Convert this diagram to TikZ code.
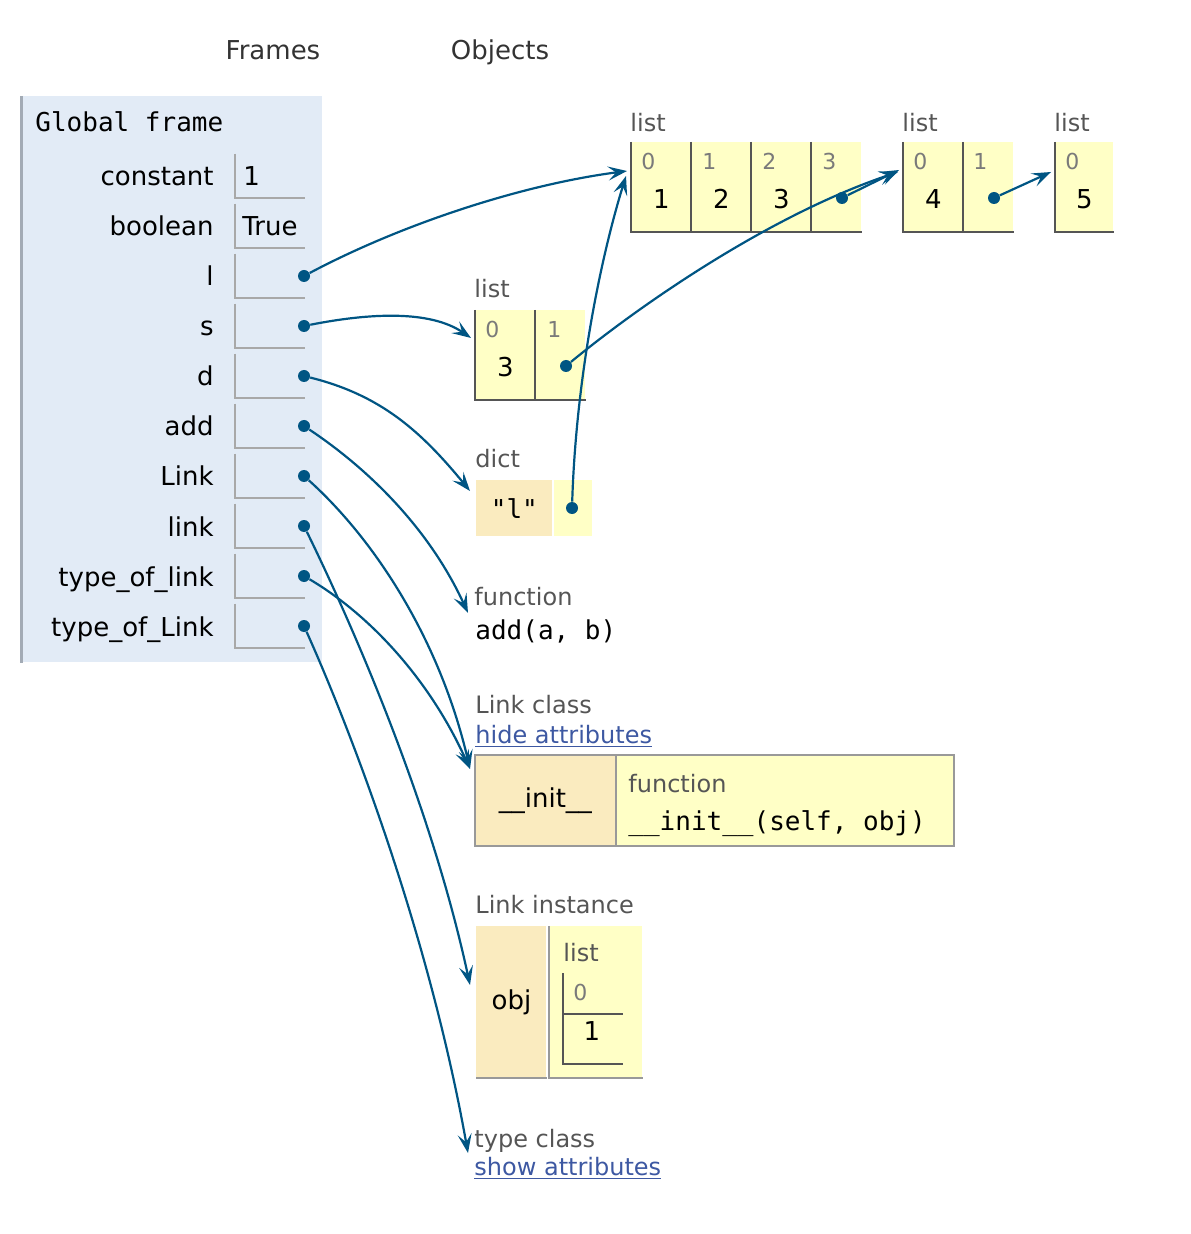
\documentclass[tikz,border=0pt]{standalone}
\usepackage{fontspec}
\setmainfont{DejaVu Sans}
\setmonofont{DejaVu Sans Mono}
\usetikzlibrary{arrows.meta}
\definecolor{framebg}{HTML}{E2EBF6}
\definecolor{framebord}{HTML}{A3ABB5}
\definecolor{fcellline}{HTML}{A8A8A8}
\definecolor{listbg}{HTML}{FFFFC6}
\definecolor{keybg}{HTML}{FAEBBF}
\definecolor{listline}{HTML}{555555}
\definecolor{boxgray}{HTML}{999999}
\definecolor{arrowcol}{HTML}{005583}
\definecolor{linkcol}{HTML}{3D58A2}
\definecolor{tagcol}{HTML}{555555}
\definecolor{idxcol}{HTML}{7A7A7A}
\definecolor{headcol}{HTML}{333333}
\tikzstyle{txt} = [inner sep=0pt, anchor=base west, font=\fontsize{13}{15}\selectfont]
\tikzstyle{vname} = [txt, anchor=base east]
\tikzstyle{head} = [txt, anchor=base, text=headcol]
\tikzstyle{mono} = [txt, font=\fontsize{13}{15}\selectfont\ttfamily]
\tikzstyle{tag} = [txt, text=tagcol, font=\fontsize{12}{14}\selectfont]
\tikzstyle{idx} = [txt, text=idxcol, font=\fontsize{11}{13}\selectfont]
\tikzstyle{weblink} = [txt, text=linkcol, font=\fontsize{12}{14}\selectfont]
\tikzstyle{cell} = [rectangle, fill=listbg, inner sep=0pt, anchor=north west, minimum height=44.5pt, text height=22pt, text depth=0pt, font=\fontsize{13}{15}\selectfont]
\tikzstyle{keycell} = [rectangle, fill=keybg, inner sep=0pt, anchor=north west, font=\fontsize{13}{15}\selectfont]
\tikzstyle{valcell} = [rectangle, fill=listbg, inner sep=0pt, anchor=north west]
\tikzstyle{fcell} = [rectangle, inner sep=0pt, minimum width=35pt, minimum height=22pt]
\tikzstyle{ptr} = [circle, fill=arrowcol, inner sep=0pt, minimum size=6pt]
\tikzstyle{ref} = [draw=arrowcol, line width=1.1pt, -{Stealth[length=9.5pt,width=7pt,inset=4pt]}]
\tikzstyle{cline} = [draw=listline, line width=1pt]
\tikzstyle{fline} = [draw=fcellline, line width=1pt]
\tikzstyle{boxline} = [draw=boxgray, line width=1pt]

\begin{document}
\begin{tikzpicture}[x=0.5pt, y=-0.5pt]
    \useasboundingbox (0,0) rectangle (1190,1234);
    \node (frames) [head] at (273,60) {Frames};
    \node (objects) [head] at (500,60) {Objects};

    % global frame
    \node (glob) [rectangle, fill=framebg, inner sep=0pt, minimum width=151pt, minimum height=283pt, anchor=north west] at (20,96) {};
    \draw [draw=framebord, line width=1.5pt] ([xshift=0.75pt]glob.north west) -- ([xshift=0.75pt]glob.south west);
    \node (gf) [mono] at (35,132) {Global frame};
    \foreach \n/\t in {1/constant, 2/boolean, 3/l, 4/s, 5/d, 6/add, 7/Link, 8/link, 9/type\_of\_link, 10/type\_of\_Link} {
        \node (v\n) [vname] at (214,136+50*\n) {\t};
        \node (f\n) [fcell] at (270,126+50*\n) {};
        \draw [fline] (f\n.north west) |- (f\n.south east);
    }
    \node (val1) [txt] at (243,186) {1};
    \node (val2) [txt] at (242,236) {True};
    \node (pl) [ptr] at (304,276) {};
    \node (ps) [ptr] at (304,326) {};
    \node (pd) [ptr] at (304,376) {};
    \node (padd) [ptr] at (304,426) {};
    \node (pLink) [ptr] at (304,476) {};
    \node (plink) [ptr] at (304,526) {};
    \node (ptol) [ptr] at (304,576) {};
    \node (ptoL) [ptr] at (304,626) {};

    % list [1, 2, 3, ...]
    \node (atag) [tag] at (630,132) {list};
    \node (a0) [cell, minimum width=30pt] at (631,142) {1};
    \node (a1) [cell, minimum width=30pt] at (691,142) {2};
    \node (a2) [cell, minimum width=30pt] at (751,142) {3};
    \node (a3) [cell, minimum width=25pt] at (811,142) {};
    \draw [cline] (a0.north west) |- (a3.south east);
    \draw [cline] (a1.north west) -- (a1.south west);
    \draw [cline] (a2.north west) -- (a2.south west);
    \draw [cline] (a3.north west) -- (a3.south west);
    \node (a0i) [idx] at (641,170) {0};
    \node (a1i) [idx] at (702,170) {1};
    \node (a2i) [idx] at (762,170) {2};
    \node (a3i) [idx] at (822,170) {3};
    \node (a3p) [ptr] at (842,198) {};

    % list [4, ...]
    \node (ctag) [tag] at (902,132) {list};
    \node (c0) [cell, minimum width=30pt] at (903,142) {4};
    \node (c1) [cell, minimum width=25pt] at (963,142) {};
    \draw [cline] (c0.north west) |- (c1.south east);
    \draw [cline] (c1.north west) -- (c1.south west);
    \node (c0i) [idx] at (913,170) {0};
    \node (c1i) [idx] at (973,170) {1};
    \node (c1p) [ptr] at (994,198) {};

    % list [5]
    \node (etag) [tag] at (1054,132) {list};
    \node (e0) [cell, minimum width=29pt] at (1055,142) {5};
    \draw [cline] (e0.north west) |- (e0.south east);
    \node (e0i) [idx] at (1065,170) {0};

    % list [3, ...]
    \node (btag) [tag] at (474,298) {list};
    \node (b0) [cell, minimum width=30pt] at (475,310) {3};
    \node (b1) [cell, minimum width=25pt] at (535,310) {};
    \draw [cline] (b0.north west) |- (b1.south east);
    \draw [cline] (b1.north west) -- (b1.south west);
    \node (b0i) [idx] at (485,338) {0};
    \node (b1i) [idx] at (547,338) {1};
    \node (b1p) [ptr] at (566,366) {};

    % dict
    \node (dtag) [tag] at (475,467) {dict};
    \node (dk) [keycell, minimum width=38pt, minimum height=28pt] at (476,480) {\ttfamily"l"};
    \node (dv) [valcell, minimum width=19pt, minimum height=28pt] at (554,480) {};
    \node (dvp) [ptr] at (572,508) {};

    % function
    \node (fn) [tag] at (474,605) {function};
    \node (fnsig) [mono] at (475,639) {add(a, b)};

    % Link class
    \node (ctitle) [tag] at (475,713) {Link class};
    \node (chide) [weblink] at (475,743) {\underline{hide attributes}};
    \node (ck) [keycell, minimum width=70pt, minimum height=45pt] at (475,755) {\_\_init\_\_};
    \node (cv) [valcell, minimum width=169pt, minimum height=45pt] at (615,755) {};
    \draw [boxline] (ck.north west) rectangle (cv.south east);
    \draw [boxline] (ck.north east) -- (ck.south east);
    \node (cvtag) [tag] at (628,792) {function};
    \node (cvsig) [mono] at (628,830) {\_\_init\_\_(self, obj)};

    % Link instance
    \node (ititle) [tag] at (475,913) {Link instance};
    \node (ok) [keycell, minimum width=35pt, minimum height=75.5pt] at (476,926) {obj};
    \node (ov) [valcell, minimum width=46.5pt, minimum height=75.5pt] at (549,926) {};
    \draw [boxline] (ok.south west) -- (ok.south east);
    \draw [boxline] (ov.north west) |- (ov.south east);
    \node (ovtag) [tag] at (563,961) {list};
    \node (oi) [rectangle, inner sep=0pt, anchor=north west, minimum width=29.5pt, minimum height=20pt] at (563,973) {};
    \node (ox) [rectangle, inner sep=0pt, anchor=north west, minimum width=29.5pt, minimum height=25pt] at (563,1013) {};
    \draw [cline] (oi.north west) |- (oi.south east);
    \draw [cline] (ox.north west) |- (ox.south east);
    \node (oii) [idx] at (573,1000) {0};
    \node (oxv) [txt, anchor=base] at (592,1040) {1};

    % type class
    \node (tc) [tag] at (474,1147) {type class};
    \node (tshow) [weblink] at (474,1175) {\underline{show attributes}};

    % references
    \draw [ref] (pl) .. controls (400,225) and (520,185) .. ([shift={(-2pt,-14.5pt)}]a0.north west);
    \draw [ref] (ps) .. controls (370,313) and (430,310) .. ([shift={(-2pt,-14pt)}]b0.north west);
    \draw [ref] (pd) .. controls (380,395) and (420,430) .. ([shift={(-3pt,-5.5pt)}]dk.north west);
    \draw [ref] (padd) .. controls (370,470) and (430,530) .. ([shift={(-3pt,-4pt)}]fn.base west);
    \draw [ref] (pLink) .. controls (375,540) and (440,640) .. ([shift={(-2.5pt,-7pt)}]ck.north west);
    \draw [ref] (plink) .. controls (350,620) and (430,800) .. ([shift={(-3pt,-29.5pt)}]ok.north west);
    \draw [ref] (ptol) .. controls (370,615) and (430,680) .. ([shift={(-2.5pt,-7pt)}]ck.north west);
    \draw [ref] (ptoL) .. controls (355,740) and (430,940) .. ([shift={(-3pt,-3pt)}]tc.base west);
    \draw [ref] (dvp) .. controls (576,380) and (600,260) .. ([shift={(-2.5pt,-17pt)}]a0.north west);
    \draw [ref] (b1p) .. controls (640,305) and (770,215) .. ([shift={(-2.5pt,-15pt)}]c0.north west);
    \draw [ref] (a3p) -- ([shift={(-2pt,-14pt)}]c0.north west);
    \draw [ref] (c1p) -- ([shift={(-2pt,-15pt)}]e0.north west);
\end{tikzpicture}
\end{document}
